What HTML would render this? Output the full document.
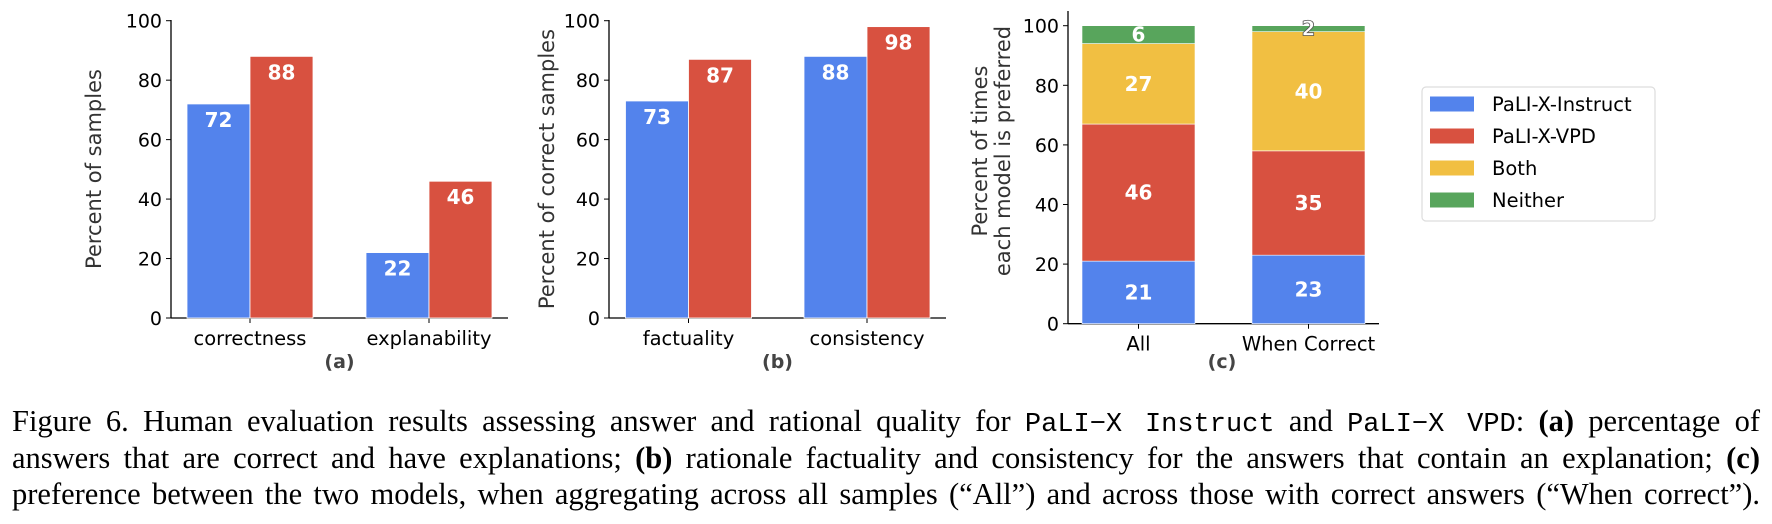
<!DOCTYPE html>
<html><head><meta charset="utf-8"><style>
body{margin:0;background:#fff;width:1772px;height:524px;overflow:hidden;position:relative}
svg{position:absolute;left:0;top:0}
.cap{position:absolute;left:12px;width:1748px;font-family:"Liberation Serif",serif;font-size:30.5px;color:#000;text-align:justify;text-align-last:justify;white-space:nowrap;line-height:36.5px}
.mono{font-family:"Liberation Mono",monospace;font-size:27px}
</style></head><body>
<svg id="fig" width="1772" height="400"></svg>
<div class="cap" style="top:403px">Figure 6. Human evaluation results assessing answer and rational quality for <span class="mono">PaLI−X Instruct</span> and <span class="mono">PaLI−X VPD</span>: <b>(a)</b> percentage of</div>
<div class="cap" style="top:439.5px">answers that are correct and have explanations; <b>(b)</b> rationale factuality and consistency for the answers that contain an explanation; <b>(c)</b></div>
<div class="cap" style="top:476px">preference between the two models, when aggregating across all samples (“All”) and across those with correct answers (“When correct”).</div>
<script>
const aCats=['correctness','explanability'];
const aInstruct=[72,22];
const aVPD=[88,46];
const bCats=['factuality','consistency'];
const bInstruct=[73,88];
const bVPD=[87,98];
const cCats=['All','When Correct'];
const cInstruct=[21,23];
const cVPD=[46,35];
const cBoth=[27,40];
const cNeither=[6,2];
const yTicks=[0,20,40,60,80,100];
const seriesNames=['PaLI-X-Instruct','PaLI-X-VPD','Both','Neither'];
const COL=['#5383EC','#D85140','#F1BF42','#58A55C'];
const svg=document.getElementById('fig');const NS='http://www.w3.org/2000/svg';
function el(t,a,p){const e=document.createElementNS(NS,t);for(const k in a)e.setAttribute(k,a[k]);(p||svg).appendChild(e);return e;}
function txt(s,a,p){const e=el('text',Object.assign({'font-family':'DejaVu Sans, Liberation Sans, sans-serif','font-size':19},a),p);e.textContent=s;return e;}
function axes(g,x0,x1,yTop,y0,y100,ylab,ylabX,ylabCy,cats,cx,panel,panelX){
  const sy=v=>y0-(y0-y100)*v/100;
  el('line',{x1:x0,y1:yTop,x2:x0,y2:y0,stroke:'#000','stroke-width':1.3},g);
  el('line',{x1:x0,y1:y0,x2:x1,y2:y0,stroke:'#000','stroke-width':1.3},g);
  yTicks.forEach(t=>{el('line',{x1:x0-5,y1:sy(t),x2:x0,y2:sy(t),stroke:'#000'},g);
    const l=txt(String(t),{x:x0-9,y:sy(t)+7,'text-anchor':'end'},g);});
  cats.forEach((c,i)=>{el('line',{x1:cx(i),y1:y0,x2:cx(i),y2:y0+5,stroke:'#000'},g);
    const l=txt(c,{x:cx(i),y:y0+27,'text-anchor':'middle','font-size':19.5},g);});
  ylab.forEach((s,k)=>{const cy=ylabCy;const l=txt(s,{x:ylabX[k],y:cy,'text-anchor':'middle',fill:'#333','font-size':21,transform:`rotate(-90 ${ylabX[k]} ${cy})`},g);});
  const p=txt(panel,{x:panelX,y:368,'text-anchor':'middle','font-weight':'bold',fill:'#444'},g);
  return sy;
}
function grouped(name,cats,s1,s2,x0,x1,centers,bw,ylab,ylabX,panel){
  const g=el('g',{});
  const cx=i=>centers[0]+(centers[1]-centers[0])*i;
  const sy=axes(g,x0,x1,20,318,20.7,ylab,ylabX,169,cats,cx,panel,(x0+x1)/2);
  [s1,s2].forEach((s,k)=>s.forEach((v,i)=>{
    const x=k==0?cx(i)-bw:cx(i);
    const r=el('rect',{x:x,y:sy(v),width:bw,height:318-sy(v),fill:COL[k],stroke:'#fff','stroke-width':0.8},g);
    
    const l=txt(String(v),{x:x+bw/2,y:sy(v)+23,'text-anchor':'middle',fill:'#fff','font-size':20,'font-weight':600},g);
    
  }));
}
grouped('chart-a',aCats,aInstruct,aVPD,171,508,[250,429],63,['Percent of samples'],[101],'(a)');
grouped('chart-b',bCats,bInstruct,bVPD,609,946,[688.5,867],63,['Percent of correct samples'],[554],'(b)');
(function(){
  const g=el('g',{});
  const cx=i=>1138.5+170*i;const bw=113;
  const sy=axes(g,1068,1379,11,323.7,25.7,['Percent of times','each model is preferred'],[987,1010],151,cCats,cx,'(c)',1222);
  const stacks=[cInstruct,cVPD,cBoth,cNeither];
  cCats.forEach((c,i)=>{let base=0;stacks.forEach((s,k)=>{const v=s[i];
    const r=el('rect',{x:cx(i)-bw/2,y:sy(base+v),width:bw,height:sy(base)-sy(base+v),fill:COL[k],stroke:'#fff','stroke-width':0.6},g);
    
    const big=v>4;
    const l=txt(String(v),{x:cx(i),y:(sy(base)+sy(base+v))/2+7,'text-anchor':'middle',fill:'#fff',stroke:big?'none':'#555','stroke-width':big?0:0.8,'font-size':20,'font-weight':600},g);
    
    base+=v;});});
})();
(function(){
  const g=el('g',{});
  el('rect',{x:1422,y:87,width:233,height:134,rx:4,fill:'#fff',stroke:'#ddd','stroke-width':1.2},g);
  seriesNames.forEach((s,k)=>{const cy=104+32*k;
    const e=el('g',{},g);
    el('rect',{x:1430,y:cy-7.5,width:44,height:15,fill:COL[k]},e);
    txt(s,{x:1492,y:cy+7,'font-size':19.5},e);});
})();
</script>
</body></html>
